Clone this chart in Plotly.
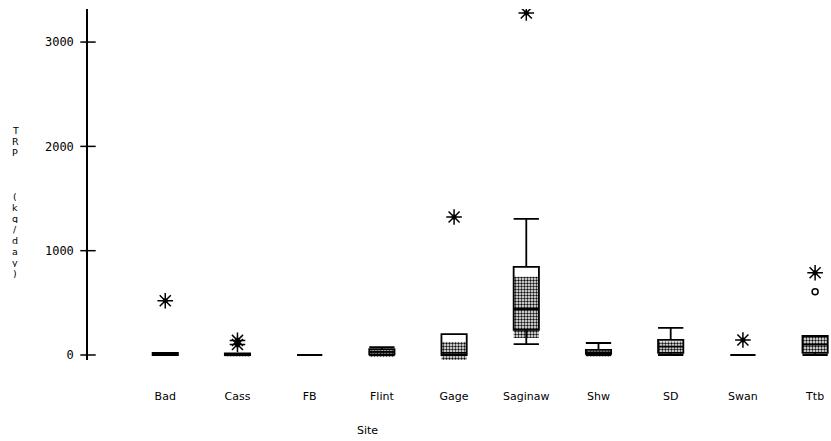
import plotly.graph_objects as go

# TRP loads by site (kg/day): box summaries
sites = ["Bad", "Cass", "FB", "Flint", "Gage", "Saginaw", "Shw", "SD", "Swan", "Ttb"]
lower_fence = [0, 0, 0, 0, 0, 105, 0, 0, 0, 0]
q1 = [0, 0, 0, 5, 0, 240, 10, 20, 0, 20]
median = [10, 8, 0, 30, 20, 441, 25, 80, 0, 100]
q3 = [20, 15, 0, 55, 200, 844, 50, 145, 0, 182]
upper_fence = [20, 15, 0, 75, 200, 1304, 115, 260, 0, 182]

# shaded band around each median
shade_lo = [-10, -15, None, -20, -48, 163, -15, 5, None, 20]
shade_hi = [25, 15, None, 55, 125, 750, 45, 130, None, 175]

# far outside values (asterisks) and outside values (circles)
far_site = ["Bad", "Cass", "Cass", "Gage", "Saginaw", "Swan", "Ttb"]
far_val = [520, 100, 140, 1323, 3279, 144, 789]
out_site = ["Ttb"]
out_val = [607]

y_ticks = [0, 1000, 2000, 3000]
y_title = "TRP   (kg/day)"

X_MIN, X_MAX = -1.07, 9.22
Y_MIN, Y_MAX = -48, 3317
BOX_W = 0.35

W, H = 831, 441
M_L, M_R, M_T, M_B = 88, 0, 9, 81
PLOT_H = H - M_T - M_B

pos = {s: i for i, s in enumerate(sites)}
idx = list(range(len(sites)))

fig = go.Figure()

# dithered band behind the boxes
sx, sbase, sh = [], [], []
for i, lo, hi in zip(idx, shade_lo, shade_hi):
    if lo is None:
        continue
    sx.append(i)
    sbase.append(lo)
    sh.append(hi - lo)
fig.add_trace(go.Bar(
    x=sx, y=sh, base=sbase, width=BOX_W,
    marker=dict(color="#111111", line=dict(width=0),
                pattern=dict(shape=".", size=3, solidity=0.5, fillmode="replace")),
    hoverinfo="skip", showlegend=False,
))

fig.add_trace(go.Box(
    x=idx, q1=q1, median=median, q3=q3,
    lowerfence=lower_fence, upperfence=upper_fence,
    width=BOX_W, whiskerwidth=1,
    line=dict(color="black", width=1.8),
    fillcolor="rgba(0,0,0,0)",
    boxpoints=False, hoverinfo="skip", showlegend=False,
))

fig.add_trace(go.Scatter(
    x=[pos[s] for s in far_site], y=far_val, mode="markers",
    marker=dict(symbol="asterisk-open", size=13, color="black",
                line=dict(color="black", width=1.5)),
    hoverinfo="skip", showlegend=False,
))
fig.add_trace(go.Scatter(
    x=[pos[s] for s in far_site], y=far_val, mode="markers",
    marker=dict(symbol="circle", size=5, color="black"),
    hoverinfo="skip", showlegend=False,
))
fig.add_trace(go.Scatter(
    x=[pos[s] for s in out_site], y=out_val, mode="markers",
    marker=dict(symbol="circle-open", size=6, color="black",
                line=dict(color="black", width=1.5)),
    hoverinfo="skip", showlegend=False,
))

# cross-shaped tick marks on the value axis
fig.add_trace(go.Scatter(
    x=[X_MIN] * len(y_ticks), y=y_ticks, mode="markers", cliponaxis=False,
    marker=dict(symbol="line-ew-open", size=11, color="black",
                line=dict(color="black", width=1.5)),
    hoverinfo="skip", showlegend=False,
))

# vertical, one-letter-per-line axis title
annotations = []
TITLE_TOP_PX, TITLE_STEP_PX, TITLE_X_PX = 130, 11, 15
for k, ch in enumerate(y_title):
    if ch == " ":
        continue
    ypx = TITLE_TOP_PX + TITLE_STEP_PX * k
    annotations.append(dict(
        text=ch, xref="paper", yref="paper",
        x=(TITLE_X_PX - M_L) / (W - M_L - M_R),
        y=(H - M_B - ypx) / PLOT_H,
        xanchor="center", yanchor="middle", showarrow=False,
        height=10, borderpad=0,
        font=dict(family="DejaVu Sans", size=9.5, color="black"),
    ))
annotations.append(dict(
    text="Site", xref="paper", yref="paper",
    x=(367 - M_L) / (W - M_L - M_R), y=(H - M_B - 430) / PLOT_H,
    xanchor="center", yanchor="middle", showarrow=False,
    font=dict(family="DejaVu Sans", size=11, color="black"),
))

fig.update_layout(
    width=W, height=H,
    margin=dict(l=M_L, r=M_R, t=M_T, b=M_B),
    paper_bgcolor="white", plot_bgcolor="white",
    showlegend=False,
    font=dict(family="DejaVu Sans", color="black"),
    xaxis=dict(
        range=[X_MIN, X_MAX], tickmode="array", tickvals=idx, ticktext=sites,
        showgrid=False, zeroline=False, showline=False, ticks="",
        tickfont=dict(family="DejaVu Sans", size=11, color="black"),
        ticklabelstandoff=28,
    ),
    yaxis=dict(
        range=[Y_MIN, Y_MAX], tickmode="array", tickvals=y_ticks,
        showgrid=False, zeroline=False, showline=True,
        linecolor="black", linewidth=1.5, ticks="",
        tickfont=dict(family="DejaVu Sans Mono", size=12, color="black"),
        ticklabelstandoff=10,
    ),
    annotations=annotations,
)

fig.write_html("out.html")
